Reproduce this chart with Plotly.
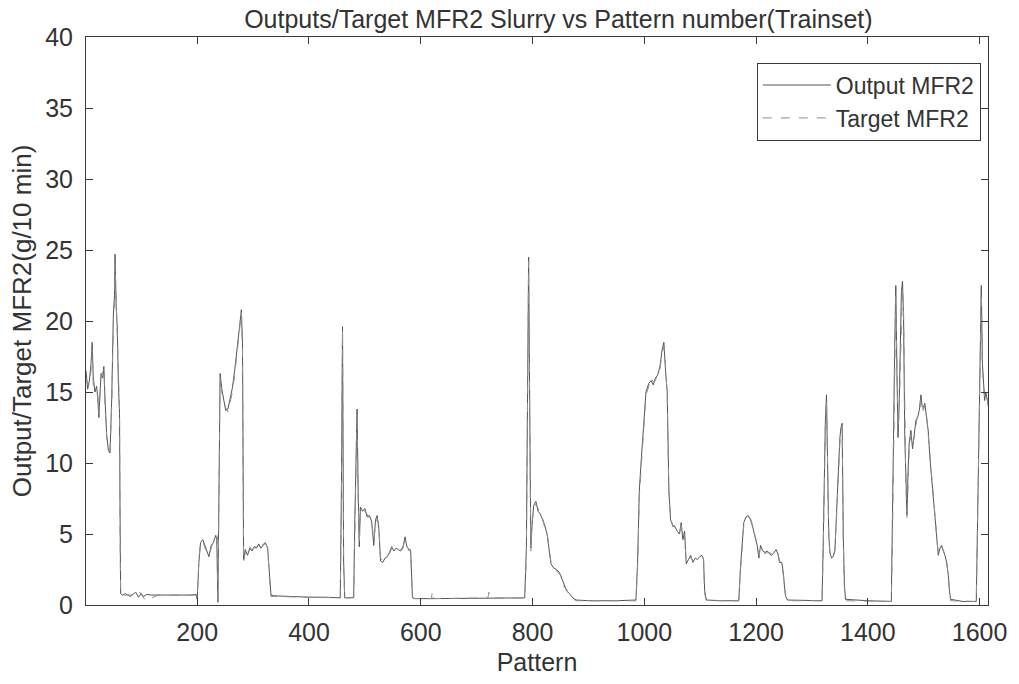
import plotly.graph_objects as go

# ---- Output MFR2 (pattern number) ----
output_pattern = [
    1, 4, 7, 10, 12, 14, 17, 20, 22, 24, 26, 28, 31, 33, 35, 38, 41, 44, 47, 50, 52, 53, 55, 57, 59, 61, 62, 63,
    66, 72, 80, 86, 90, 95, 100, 104, 110, 118, 130, 145, 160, 175, 190, 198,
    200, 203, 206, 210, 214, 218, 221, 225, 229, 233, 235, 237,
    239, 241, 244, 247, 251, 255, 259, 263, 267, 271, 275, 278, 279, 281, 283, 286, 290, 294, 298, 302, 306, 310, 314, 318, 322, 326, 329, 332,
    336, 360, 400, 430, 456, 458, 460, 462, 464, 470, 480,
    482, 484, 486, 488, 490, 492, 496, 500, 504, 508, 512, 516, 519, 522, 525, 528, 532, 536, 540, 544, 548, 552, 556, 560, 564, 568, 572, 575, 579, 582, 585, 588,
    620, 680, 740, 786,
    789, 791, 793, 795, 797, 799, 802, 806, 810, 814, 818, 822, 826, 829, 833, 838, 843, 848, 852, 856, 861, 866, 872, 878,
    900, 950, 985,
    988, 991, 995, 999, 1003, 1008, 1012, 1016, 1020, 1024, 1028, 1032, 1035, 1038, 1041, 1044, 1047, 1051, 1055, 1059, 1063, 1066, 1069, 1072, 1075, 1079, 1083, 1087, 1091, 1095, 1099, 1103, 1106, 1108, 1111,
    1140, 1169, 1172, 1175, 1178, 1182, 1186, 1190, 1194, 1198, 1202, 1205, 1208, 1212, 1216, 1220, 1224, 1228, 1232, 1236, 1239, 1242, 1246, 1249, 1251, 1253, 1256,
    1290, 1318, 1320, 1322, 1324, 1326, 1328, 1330, 1332, 1335, 1338, 1341, 1344, 1347, 1350, 1352, 1354, 1356, 1358, 1360,
    1400, 1442, 1444, 1446, 1448, 1450, 1452, 1454, 1456, 1458, 1460, 1462, 1464, 1466, 1468, 1470, 1472, 1474, 1477, 1480, 1483, 1486, 1489, 1492, 1495, 1497, 1499, 1502, 1505, 1508, 1511, 1514, 1517, 1520, 1523, 1526, 1529, 1532, 1535, 1538, 1541, 1544, 1546, 1548,
    1570, 1594, 1596, 1598, 1600, 1602, 1603, 1605, 1607, 1609, 1611, 1613, 1615,
]
output_mfr2 = [
    16.5, 15.2, 15.8, 17.0, 18.5, 16.0, 15.0, 15.4, 14.6, 13.2, 14.8, 16.3, 16.0, 16.8, 14.5, 12.0, 10.9, 10.7, 14.5, 20.5, 21.8, 24.7, 21.0, 19.5, 15.5, 13.5, 6.0, 0.8,
    0.7, 0.8, 0.6, 0.75, 0.9, 0.55, 0.8, 0.6, 0.75, 0.7, 0.7, 0.65, 0.7, 0.65, 0.7, 0.75,
    0.4, 3.0, 4.4, 4.6, 4.2, 3.8, 3.4, 4.2, 4.4, 4.9, 4.6, 0.2,
    8.0, 16.3, 15.2, 14.6, 13.7, 13.8, 14.5, 15.3, 16.5, 17.8, 19.0, 20.4, 20.8, 18.5, 3.2, 3.9, 3.5, 4.0, 3.8, 4.1, 4.0, 4.3, 4.0, 4.2, 4.4, 4.0, 2.2, 0.7,
    0.65, 0.6, 0.55, 0.55, 0.5, 8.0, 19.6, 3.0, 0.5, 0.5, 0.55,
    6.0, 11.0, 13.8, 8.0, 4.1, 6.9, 6.6, 6.8, 6.2, 6.3, 5.9, 4.2, 6.0, 6.3, 5.4, 3.1, 3.0, 3.3, 3.4, 3.7, 4.1, 3.8, 4.0, 3.9, 3.8, 4.0, 4.8, 4.1, 3.9, 3.8, 0.6, 0.45,
    0.45, 0.45, 0.5, 0.5,
    4.0, 12.0, 24.5, 14.0, 4.0, 5.5, 7.0, 7.3, 6.6, 6.4, 6.0, 5.6, 5.0, 4.0, 2.9, 2.6, 2.5, 2.3, 1.9, 1.4, 1.0, 0.8, 0.5, 0.35,
    0.3, 0.3, 0.35,
    3.0, 8.0, 10.5, 13.0, 15.0, 15.6, 15.8, 15.5, 16.0, 16.2, 16.8, 18.0, 18.5, 16.5, 15.0, 8.0, 6.0, 5.6, 5.5, 5.2, 5.0, 5.8, 4.6, 5.2, 2.9, 3.2, 3.5, 3.0, 3.3, 3.2, 3.4, 3.5, 3.2, 1.0, 0.35,
    0.3, 0.3, 2.6, 4.5, 5.8, 6.2, 6.3, 6.0, 5.5, 4.8, 4.2, 3.3, 4.2, 3.8, 3.7, 3.8, 3.6, 3.5, 3.7, 3.9, 3.6, 3.0, 3.0, 2.2, 1.2, 0.6, 0.35,
    0.3, 0.3, 4.0, 9.0, 13.0, 14.8, 9.0, 5.0, 3.7, 3.3, 3.4, 3.8, 6.5, 9.5, 11.8, 12.5, 12.8, 5.0, 1.5, 0.4,
    0.3, 0.25, 5.0, 12.0, 18.0, 22.5, 16.5, 11.8, 14.0, 17.5, 22.0, 22.8, 20.0, 12.0, 8.0, 6.3, 9.5, 11.4, 12.3, 11.0, 12.0, 13.0, 13.2, 13.7, 14.8, 14.0, 13.9, 14.2, 13.2, 12.3, 10.4, 9.0, 7.7, 6.0, 4.4, 3.5, 4.0, 4.2, 3.8, 3.5, 3.0, 2.1, 1.0, 0.4,
    0.25, 0.25, 5.0, 10.0, 16.0, 20.0, 22.5, 17.0, 15.5, 14.4, 15.0, 14.6, 14.2,
]

# ---- Target MFR2 (pattern number) ----
target_pattern = [
    1, 4, 7, 10, 12, 14, 17, 20, 22, 24, 26, 28, 31, 33, 35, 38, 41, 44, 47, 50, 52, 53, 55, 57, 59, 61, 62, 63,
    66, 80, 92, 96, 100, 108, 130, 160, 198,
    200, 203, 206, 210, 214, 218, 221, 225, 229, 233, 236, 237,
    239, 241, 244, 247, 251, 255, 259, 263, 267, 271, 275, 278, 279, 281, 283, 286, 290, 294, 298, 302, 306, 310, 314, 318, 322, 326, 329, 332,
    336, 400, 456, 458, 460, 462, 464, 480,
    482, 484, 486, 488, 490, 492, 496, 500, 504, 508, 512, 516, 519, 522, 525, 528, 532, 536, 540, 544, 548, 552, 556, 560, 564, 568, 572, 575, 579, 582, 585, 588,
    619, 621, 623, 720, 722, 724, 786,
    789, 791, 793, 795, 797, 799, 802, 806, 810, 814, 818, 822, 826, 829, 833, 838, 843, 848, 852, 856, 861, 866, 872, 878,
    985,
    988, 991, 995, 999, 1003, 1008, 1012, 1016, 1020, 1024, 1028, 1032, 1035, 1038, 1041, 1044, 1047, 1051, 1055, 1059, 1063, 1066, 1069, 1072, 1075, 1079, 1083, 1087, 1091, 1095, 1099, 1103, 1106, 1108, 1111,
    1169, 1172, 1175, 1178, 1182, 1186, 1190, 1194, 1198, 1202, 1205, 1208, 1212, 1216, 1220, 1224, 1228, 1232, 1236, 1239, 1242, 1246, 1249, 1251, 1253, 1256,
    1318, 1320, 1322, 1324, 1326, 1328, 1330, 1332, 1335, 1338, 1341, 1344, 1347, 1350, 1352, 1354, 1356, 1358, 1360,
    1442, 1444, 1446, 1448, 1450, 1452, 1454, 1456, 1458, 1460, 1462, 1464, 1466, 1468, 1470, 1472, 1474, 1477, 1480, 1483, 1486, 1489, 1492, 1495, 1497, 1499, 1502, 1505, 1508, 1511, 1514, 1517, 1520, 1523, 1526, 1529, 1532, 1535, 1538, 1541, 1544, 1546, 1548,
    1594, 1596, 1598, 1600, 1602, 1603, 1605, 1607, 1609, 1611, 1613, 1615,
]
target_mfr2 = [
    16.0, 15.5, 15.5, 16.5, 18.0, 15.5, 15.2, 15.0, 14.8, 13.5, 14.5, 16.0, 16.4, 16.6, 14.0, 11.8, 11.0, 10.9, 14.0, 20.0, 21.2, 24.0, 21.5, 19.0, 15.8, 13.8, 5.0, 0.7,
    0.7, 0.7, 0.7, 0.95, 0.7, 0.3, 0.7, 0.7, 0.7,
    0.5, 3.2, 4.5, 4.5, 4.0, 3.7, 3.5, 4.0, 4.5, 4.8, 4.9, 0.0,
    7.0, 16.0, 15.0, 14.4, 13.9, 13.6, 14.3, 15.0, 16.2, 17.5, 19.2, 20.2, 20.6, 18.0, 3.0, 3.7, 3.6, 4.1, 3.9, 4.0, 4.2, 4.1, 4.1, 4.3, 4.3, 4.1, 2.0, 0.6,
    0.6, 0.55, 0.5, 7.0, 19.4, 2.5, 0.5, 0.5,
    5.0, 10.5, 13.5, 7.5, 4.3, 6.7, 6.8, 6.6, 6.4, 6.1, 6.0, 4.5, 5.8, 6.1, 5.6, 3.3, 3.1, 3.2, 3.5, 3.6, 4.0, 3.9, 3.9, 4.0, 3.9, 4.1, 4.6, 4.2, 3.8, 3.9, 0.5, 0.45,
    0.45, 1.0, 0.45, 0.5, 0.9, 0.5, 0.5,
    3.5, 11.5, 24.2, 13.0, 3.8, 5.8, 6.8, 7.1, 6.8, 6.2, 6.1, 5.4, 5.1, 4.2, 3.0, 2.7, 2.4, 2.2, 2.0, 1.3, 1.1, 0.7, 0.45, 0.3,
    0.3,
    2.5, 7.5, 10.0, 12.8, 14.8, 15.4, 16.0, 15.7, 15.8, 16.4, 16.6, 17.8, 18.2, 16.8, 14.8, 7.5, 6.2, 5.5, 5.6, 5.3, 5.1, 5.6, 4.8, 5.0, 3.0, 3.1, 3.4, 3.1, 3.2, 3.3, 3.3, 3.4, 3.3, 0.8, 0.3,
    0.3, 2.4, 4.3, 5.6, 6.0, 6.2, 6.1, 5.6, 4.9, 4.3, 3.5, 4.0, 3.9, 3.6, 3.7, 3.7, 3.6, 3.6, 3.8, 3.7, 3.1, 2.9, 2.0, 1.0, 0.5, 0.3,
    0.3, 3.5, 8.5, 12.5, 14.5, 9.5, 5.2, 3.8, 3.2, 3.5, 3.9, 6.2, 9.2, 11.5, 12.3, 12.6, 4.5, 1.2, 0.3,
    0.25, 4.5, 11.0, 17.0, 21.8, 17.0, 12.5, 13.5, 16.5, 21.0, 22.4, 20.5, 12.5, 8.5, 6.0, 9.0, 11.0, 12.0, 11.3, 11.8, 12.8, 13.4, 13.5, 14.5, 14.2, 13.7, 14.0, 13.4, 12.0, 10.6, 9.2, 7.5, 6.2, 4.6, 3.6, 3.8, 4.1, 3.9, 3.4, 3.1, 2.0, 0.9, 0.3,
    0.25, 4.5, 9.5, 15.5, 19.5, 22.0, 16.5, 15.2, 14.6, 14.8, 14.8, 14.0,
]

title_text = "Outputs/Target MFR2 Slurry vs Pattern number(Trainset)"
x_title = "Pattern"
y_title = "Output/Target MFR2(g/10 min)"
x_ticks = [200, 400, 600, 800, 1000, 1200, 1400, 1600]
y_ticks = [0, 5, 10, 15, 20, 25, 30, 35, 40]

FONT = "Liberation Sans, Arial, sans-serif"
TXT = "#333333"

fig = go.Figure()
fig.add_trace(go.Scatter(
    x=output_pattern, y=output_mfr2, mode="lines", name="Output MFR2",
    line=dict(color="#555555", width=1),
))
fig.add_trace(go.Scatter(
    x=target_pattern, y=target_mfr2, mode="lines", name="Target MFR2",
    line=dict(color="#8f8f8f", width=1, dash="dash"),
))

axis_common = dict(
    showgrid=False, zeroline=False, showline=True, linecolor="#3a3a3a", linewidth=1,
    mirror="ticks", ticks="inside", ticklen=7, tickcolor="#3a3a3a",
    tickfont=dict(family=FONT, size=25, color=TXT),
)

fig.update_layout(
    width=1019, height=684,
    margin=dict(l=86, r=27, t=37, b=71),
    paper_bgcolor="white", plot_bgcolor="white",
    title=dict(text=title_text, x=0.548, xanchor="center", y=0.972, yanchor="middle",
               font=dict(family=FONT, size=25, color=TXT)),
    legend=dict(x=0.992, xanchor="right", y=0.955, yanchor="top",
                bgcolor="white", bordercolor="#3a3a3a", borderwidth=1,
                itemwidth=68,
                font=dict(family=FONT, size=23, color=TXT), tracegroupgap=0),
    showlegend=True,
)
fig.update_xaxes(range=[1, 1615], tickvals=x_ticks, ticklabelstandoff=5,
                 title=dict(text=x_title, font=dict(family=FONT, size=25, color=TXT), standoff=8),
                 **axis_common)
fig.update_yaxes(range=[0, 40], tickvals=y_ticks, ticklabelstandoff=7,
                 title=dict(text=y_title, font=dict(family=FONT, size=26, color=TXT), standoff=6),
                 **axis_common)

fig.write_html("out.html")
